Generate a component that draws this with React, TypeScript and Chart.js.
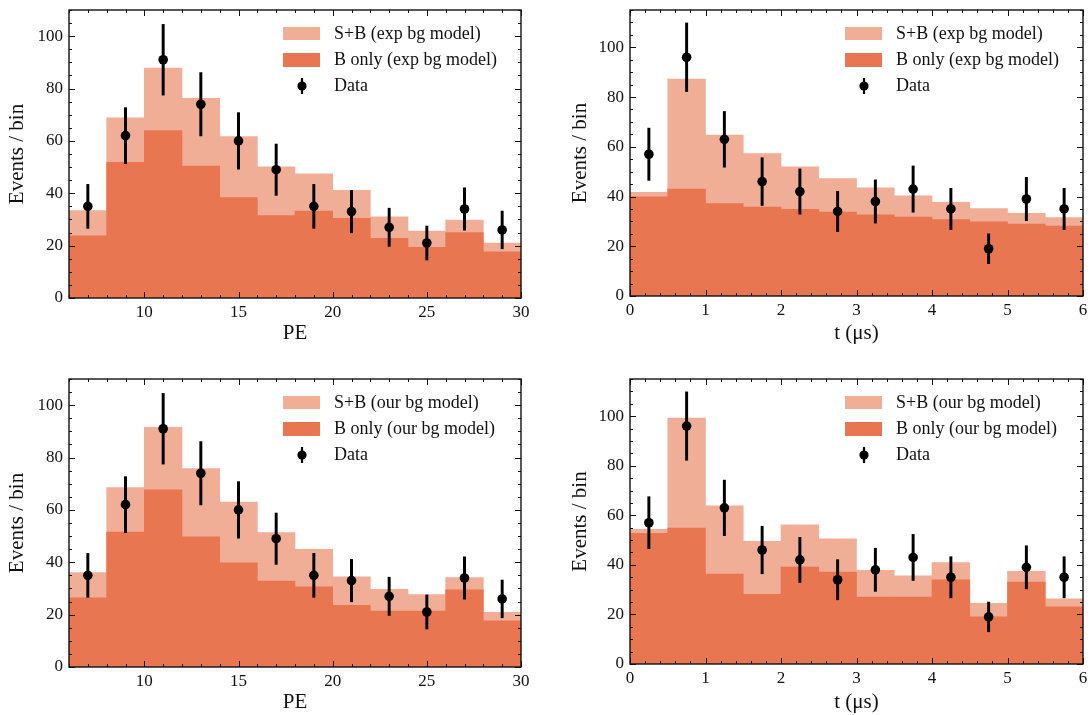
import React, { useEffect, useRef } from "react";
import { Chart, registerables } from "chart.js";

Chart.register(...registerables);

// ---------------- data ----------------
const PE_BIN_CENTERS = [7, 9, 11, 13, 15, 17, 19, 21, 23, 25, 27, 29];
const T_BIN_CENTERS = [0.25, 0.75, 1.25, 1.75, 2.25, 2.75, 3.25, 3.75, 4.25, 4.75, 5.25, 5.75];

const PE_DATA = [35, 62, 91, 74, 60, 49, 35, 33, 27, 21, 34, 26];
const PE_ERR = [8.4, 10.7, 13.5, 12.1, 10.8, 9.8, 8.4, 8.1, 7.3, 6.5, 8.1, 7.2];
const T_DATA = [57, 96, 63, 46, 42, 34, 38, 43, 35, 19, 39, 35];
const T_ERR = [10.5, 13.8, 11.2, 9.6, 9.1, 8.1, 8.7, 9.3, 8.3, 6.0, 8.7, 8.3];

const PE_SB_EXP = [33.4, 68.8, 87.8, 76.3, 61.7, 50.1, 47.4, 41.1, 31.0, 25.6, 29.8, 21.0];
const PE_B_EXP = [23.7, 51.8, 63.9, 50.4, 38.4, 31.5, 33.2, 30.4, 22.8, 19.4, 25.0, 17.6];
const T_SB_EXP = [41.7, 87.2, 64.7, 57.3, 51.9, 47.2, 43.5, 40.3, 37.7, 35.2, 33.2, 31.5];
const T_B_EXP = [39.9, 43.0, 37.2, 35.8, 34.8, 33.7, 32.6, 31.7, 30.7, 29.8, 28.9, 28.1];

const PE_SB_OUR = [36.1, 68.5, 91.5, 75.8, 63.0, 51.3, 44.9, 34.4, 29.7, 27.7, 34.2, 20.9];
const PE_B_OUR = [26.4, 51.5, 67.7, 49.7, 39.8, 32.8, 30.6, 23.6, 21.4, 21.4, 29.5, 17.6];
const T_SB_OUR = [54.3, 99.2, 63.8, 49.5, 56.2, 50.5, 37.8, 35.6, 40.9, 24.5, 37.4, 26.3];
const T_B_OUR = [52.7, 54.8, 36.3, 28.1, 39.1, 37.1, 27.0, 27.0, 34.0, 19.0, 33.1, 23.1];

const PE_XTICKS = [10, 15, 20, 25, 30];
const T_XTICKS = [0, 1, 2, 3, 4, 5, 6];
const YTICKS = [0, 20, 40, 60, 80, 100];

// ---------------- style ----------------
const FONT = "'Liberation Serif', 'Times New Roman', serif";
const LIGHT = "#f1ae97";
const DARK = "#e87651";
const INK = "#111111";

type Panel = {
  box: [number, number, number, number];
  padTop: number;
  padRight: number;
  yW: number;
  xH: number;
  xTitlePad: number;
  yTitlePad: number;
  centers: number[];
  xMin: number;
  xMax: number;
  yMax: number;
  xTicks: number[];
  xMinorStep: number;
  sb: number[];
  b: number[];
  data: number[];
  err: number[];
  xTitle: string;
  model: string;
};

const PANELS: Panel[] = [
  {
    box: [0, 0, 546, 357], padTop: 10, padRight: 25, yW: 69, xH: 59, xTitlePad: 11, yTitlePad: 5,
    centers: PE_BIN_CENTERS, xMin: 6, xMax: 30, yMax: 110, xTicks: PE_XTICKS, xMinorStep: 1,
    sb: PE_SB_EXP, b: PE_B_EXP, data: PE_DATA, err: PE_ERR, xTitle: "PE", model: "exp bg model",
  },
  {
    box: [546, 0, 546, 357], padTop: 10, padRight: 9, yW: 84, xH: 61, xTitlePad: 11, yTitlePad: 22,
    centers: T_BIN_CENTERS, xMin: 0, xMax: 6, yMax: 115, xTicks: T_XTICKS, xMinorStep: 0.2,
    sb: T_SB_EXP, b: T_B_EXP, data: T_DATA, err: T_ERR, xTitle: "t (μs)", model: "exp bg model",
  },
  {
    box: [0, 357, 546, 358], padTop: 22, padRight: 25, yW: 69, xH: 48, xTitlePad: 0, yTitlePad: 5,
    centers: PE_BIN_CENTERS, xMin: 6, xMax: 30, yMax: 110, xTicks: PE_XTICKS, xMinorStep: 1,
    sb: PE_SB_OUR, b: PE_B_OUR, data: PE_DATA, err: PE_ERR, xTitle: "PE", model: "our bg model",
  },
  {
    box: [546, 357, 546, 358], padTop: 22, padRight: 9, yW: 84, xH: 51, xTitlePad: 0, yTitlePad: 22,
    centers: T_BIN_CENTERS, xMin: 0, xMax: 6, yMax: 115, xTicks: T_XTICKS, xMinorStep: 0.2,
    sb: T_SB_OUR, b: T_B_OUR, data: T_DATA, err: T_ERR, xTitle: "t (μs)", model: "our bg model",
  },
];

// ---------------- plugins ----------------
const framePlugin = {
  id: "hepFrame",
  afterDatasetsDraw(chart: any, _args: any, opts: any) {
    const { ctx, chartArea: a } = chart;
    const xs = chart.scales.x;
    const ys = chart.scales.y;
    const MAJ = 6;
    const MIN = 3;
    const isIn = (arr: number[], v: number) => arr.some((t) => Math.abs(t - v) < 1e-6);
    ctx.save();
    ctx.strokeStyle = INK;
    ctx.lineWidth = 1;
    ctx.beginPath();
    const nx = Math.round((xs.max - xs.min) / opts.xMinorStep);
    for (let i = 0; i <= nx; i++) {
      const v = xs.min + i * opts.xMinorStep;
      const px = Math.round(xs.getPixelForValue(v)) + 0.5;
      const len = isIn(opts.xMajor, v) ? MAJ : MIN;
      ctx.moveTo(px, a.bottom);
      ctx.lineTo(px, a.bottom - len);
      ctx.moveTo(px, a.top);
      ctx.lineTo(px, a.top + len);
    }
    const ny = Math.round((ys.max - ys.min) / opts.yMinorStep);
    for (let i = 0; i <= ny; i++) {
      const v = ys.min + i * opts.yMinorStep;
      const py = Math.round(ys.getPixelForValue(v)) + 0.5;
      const len = isIn(opts.yMajor, v) ? MAJ : MIN;
      ctx.moveTo(a.left, py);
      ctx.lineTo(a.left + len, py);
      ctx.moveTo(a.right, py);
      ctx.lineTo(a.right - len, py);
    }
    ctx.stroke();
    ctx.lineWidth = 1.4;
    ctx.strokeRect(a.left, a.top, a.right - a.left, a.bottom - a.top);
    ctx.restore();
  },
};

const legendPlugin = {
  id: "hepLegend",
  afterDraw(chart: any, _args: any, opts: any) {
    const { ctx, chartArea: a } = chart;
    const px = a.right - 238;
    ctx.save();
    ctx.fillStyle = LIGHT;
    ctx.fillRect(px, a.top + 17, 37, 13);
    ctx.fillStyle = DARK;
    ctx.fillRect(px, a.top + 43, 37, 14);
    const mx = a.right - 219;
    const my = a.top + 76;
    ctx.strokeStyle = "#000";
    ctx.lineWidth = 2.2;
    ctx.beginPath();
    ctx.moveTo(mx, my - 8);
    ctx.lineTo(mx, my + 8);
    ctx.stroke();
    ctx.fillStyle = "#000";
    ctx.beginPath();
    ctx.arc(mx, my, 4.6, 0, Math.PI * 2);
    ctx.fill();
    ctx.fillStyle = INK;
    ctx.font = `18px ${FONT}`;
    ctx.textBaseline = "middle";
    ctx.textAlign = "left";
    const tx = a.right - 187;
    ctx.fillText(`S+B (${opts.model})`, tx, a.top + 24);
    ctx.fillText(`B only (${opts.model})`, tx, a.top + 50);
    ctx.fillText("Data", tx, a.top + 76);
    ctx.restore();
  },
};

function makeConfig(p: Panel): any {
  const sbData = p.centers.map((c, i) => ({ x: c, y: p.sb[i] }));
  const bData = p.centers.map((c, i) => ({ x: c, y: p.b[i] }));
  const pts = p.centers.map((c, i) => ({ x: c, y: p.data[i] }));
  const errs = p.centers.map((c, i) => ({ x: c, y: [p.data[i] - p.err[i], p.data[i] + p.err[i]] }));
  return {
    type: "bar",
    data: {
      datasets: [
        {
          type: "scatter",
          label: "Data",
          data: pts,
          backgroundColor: "#000",
          borderColor: "#000",
          borderWidth: 0,
          pointRadius: 4.8,
          order: 1,
        },
        {
          type: "bar",
          label: "err",
          data: errs,
          backgroundColor: "#000",
          barThickness: 2.3,
          grouped: false,
          order: 2,
        },
        {
          type: "bar",
          label: `B only (${p.model})`,
          data: bData,
          backgroundColor: DARK,
          borderWidth: 0,
          barPercentage: 1,
          categoryPercentage: 1,
          grouped: false,
          order: 3,
        },
        {
          type: "bar",
          label: `S+B (${p.model})`,
          data: sbData,
          backgroundColor: LIGHT,
          borderWidth: 0,
          barPercentage: 1,
          categoryPercentage: 1,
          grouped: false,
          order: 4,
        },
      ],
    },
    options: {
      animation: false,
      responsive: false,
      events: [],
      layout: { padding: { top: p.padTop, right: p.padRight, left: 0, bottom: 0 } },
      plugins: {
        legend: { display: false },
        tooltip: { enabled: false },
        hepFrame: { xMajor: p.xTicks, xMinorStep: p.xMinorStep, yMajor: YTICKS, yMinorStep: 5 },
        hepLegend: { model: p.model },
      },
      scales: {
        x: {
          type: "linear",
          min: p.xMin,
          max: p.xMax,
          offset: false,
          grid: { display: false, drawTicks: false },
          border: { display: false },
          afterBuildTicks: (scale: any) => {
            scale.ticks = p.xTicks.map((v) => ({ value: v }));
          },
          afterFit: (scale: any) => {
            scale.height = p.xH;
            scale.paddingLeft = 0;
            scale.paddingRight = 0;
          },
          ticks: {
            padding: 4,
            maxRotation: 0,
            autoSkip: false,
            color: INK,
            font: { family: FONT, size: 17 },
            callback: (v: any) => String(v),
          },
          title: {
            display: true,
            text: p.xTitle,
            color: INK,
            font: { family: FONT, size: 21 },
            padding: { top: 0, bottom: p.xTitlePad },
          },
        },
        y: {
          type: "linear",
          min: 0,
          max: p.yMax,
          grid: { display: false, drawTicks: false },
          border: { display: false },
          afterBuildTicks: (scale: any) => {
            scale.ticks = YTICKS.map((v) => ({ value: v }));
          },
          afterFit: (scale: any) => {
            scale.width = p.yW;
            scale.paddingTop = 0;
            scale.paddingBottom = 0;
          },
          ticks: {
            padding: 6,
            autoSkip: false,
            color: INK,
            font: { family: FONT, size: 17 },
            callback: (v: any) => String(v),
          },
          title: {
            display: true,
            text: "Events / bin",
            color: INK,
            font: { family: FONT, size: 21 },
            padding: { top: p.yTitlePad, bottom: 0 },
          },
        },
      },
    },
    plugins: [framePlugin, legendPlugin],
  };
}

export default function App() {
  const refs = useRef<(HTMLCanvasElement | null)[]>([]);

  useEffect(() => {
    const charts: Chart[] = [];
    PANELS.forEach((p, i) => {
      const cv = refs.current[i];
      if (cv) charts.push(new Chart(cv, makeConfig(p)));
    });
    return () => charts.forEach((c) => c.destroy());
  }, []);

  return (
    <div style={{ position: "absolute", left: 0, top: 0, width: 1092, height: 715, background: "#fff" }}>
      {PANELS.map((p, i) => (
        <canvas
          key={i}
          ref={(el) => {
            refs.current[i] = el;
          }}
          width={p.box[2]}
          height={p.box[3]}
          style={{
            position: "absolute",
            left: p.box[0],
            top: p.box[1],
            width: p.box[2],
            height: p.box[3],
            display: "block",
          }}
        />
      ))}
    </div>
  );
}
